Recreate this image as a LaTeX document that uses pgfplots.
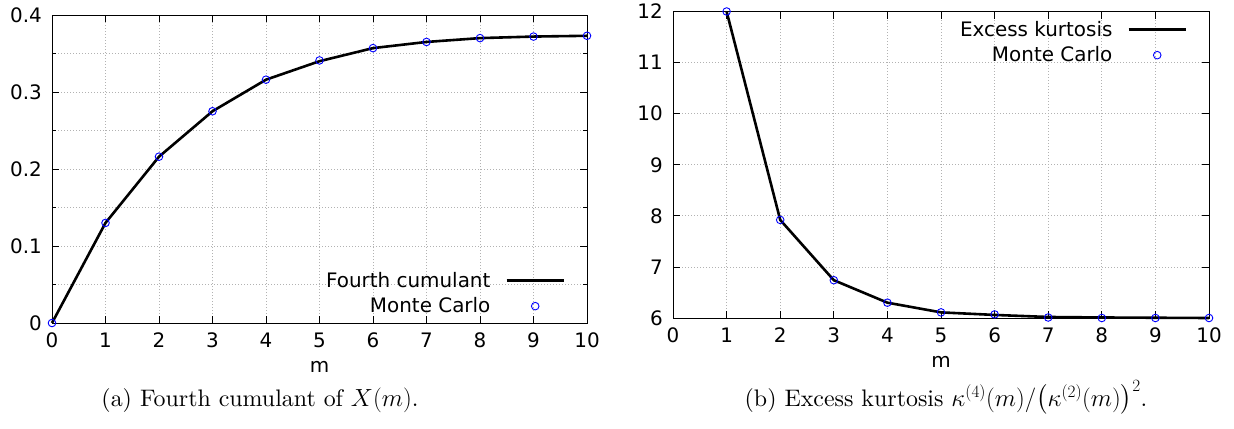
\documentclass[border=0pt]{standalone}
\usepackage{fontspec}
\setmainfont{lmroman10-regular.otf}[ItalicFont=lmroman10-italic.otf, BoldFont=lmroman10-bold.otf]
\usepackage{amsmath}
\usepackage{pgfplots}
\pgfplotsset{compat=1.18}
\newfontfamily\dejavu{DejaVu Sans}
\newcommand\gfont{\dejavu\fontsize{20}{24}\selectfont}

\pgfplotstableread{
m   k
0   0
1   0.130
2   0.216
3   0.275
4   0.316
5   0.340
6   0.357
7   0.365
8   0.370
9   0.372
10  0.373
}\cumtab
\pgfplotstableread{
m   k
0   0
1   0.130
2   0.216
3   0.275
4   0.316
5   0.341
6   0.357
7   0.365
8   0.370
9   0.372
10  0.373
}\cummc
\pgfplotstableread{
m   k
1   12.00
2   7.92
3   6.74
4   6.30
5   6.11
6   6.06
7   6.02
8   6.01
9   6.005
10  6.00
}\kurtab
\pgfplotstableread{
m   k
1   12.00
2   7.92
3   6.74
4   6.30
5   6.11
6   6.07
7   6.01
8   6.00
9   6.00
10  6.00
}\kurmc

\pgfplotsset{
 gstyle/.style={
  scale only axis,
  xmin=0,xmax=10, xtick={0,...,10},
  axis line style={line width=1bp},
  tick style={black,line width=0.8bp},
  major tick length=7bp, minor tick length=4bp,
  grid style={dash pattern=on 1bp off 2bp, gray!60, line width=0.7bp},
  xmajorgrids, ymajorgrids,
  /pgf/number format/assume math mode=true,
  ticklabel style={font=\gfont, inner sep=0pt},
  xticklabel style={yshift=-9.5bp},
  yticklabel style={xshift=-10bp},
  xlabel={m},
  label style={font=\gfont},
  xlabel style={at={(axis description cs:0.5,0)}, anchor=center, yshift=-44bp},
  clip=false,
  legend cell align=right,
  legend plot pos=right,
  legend style={draw=none, fill=none, inner sep=0pt, outer sep=0pt, font=\gfont, column sep=15bp, row sep=8.8bp, nodes={inner sep=0pt, outer sep=0pt}, anchor=north east},
 },
 lineplot/.style={black, line width=2.6bp, mark=none, legend image code/.code={\draw[black, line width=2.6bp] (0bp,0bp) -- (57bp,0bp);}},
 mcplot/.style={only marks, mark=o, blue, mark size=3.8bp, mark options={line width=0.9bp}, legend image code/.code={\path (0bp,0bp) (57bp,0bp); \draw[blue, line width=0.9bp, fill=none] (28.5bp,0bp) circle[radius=3.8bp];}},
}

\begin{document}
\begin{tikzpicture}[x=1bp,y=1bp]
\path[use as bounding box] (0,0) rectangle (1234,428);
\begin{axis}[gstyle, at={(52bp,105bp)}, anchor=south west, width=535bp, height=308bp,
  ymin=0, ymax=0.4, ytick={0,0.1,0.2,0.3,0.4}, yticklabels={0,0.1,0.2,0.3,0.4},
  minor ytick={0.05,0.15,0.25,0.35}, yminorgrids,
  legend style={at={(0.9589,0.1643)}}]
\addplot[lineplot] table[x=m,y=k] {\cumtab};
\addlegendentry{Fourth cumulant}
\addplot[mcplot] table[x=m,y=k] {\cummc};
\addlegendentry{Monte Carlo}
\end{axis}
\begin{axis}[gstyle, at={(673bp,110bp)}, anchor=south west, width=536bp, height=306.5bp,
  ymin=6, ymax=12, ytick={6,7,8,9,10,11,12}, yticklabels={6,7,8,9,10,11,12},
  legend style={at={(0.959,0.9677)}}]
\addplot[lineplot] table[x=m,y=k] {\kurtab};
\addlegendentry{Excess kurtosis}
\addplot[mcplot] table[x=m,y=k] {\kurmc};
\addlegendentry{Monte Carlo}
\end{axis}
\node[anchor=base, inner sep=0pt, font=\fontsize{24}{28}\selectfont] at (260,22) {(a) Fourth cumulant of $X(m)$.};
\node[anchor=base, inner sep=0pt, font=\fontsize{24}{28}\selectfont] at (946,22) {(b) Excess kurtosis $\kappa^{(4)}(m)/\bigl(\kappa^{(2)}(m)\bigr)^2$.};
\end{tikzpicture}
\end{document}
